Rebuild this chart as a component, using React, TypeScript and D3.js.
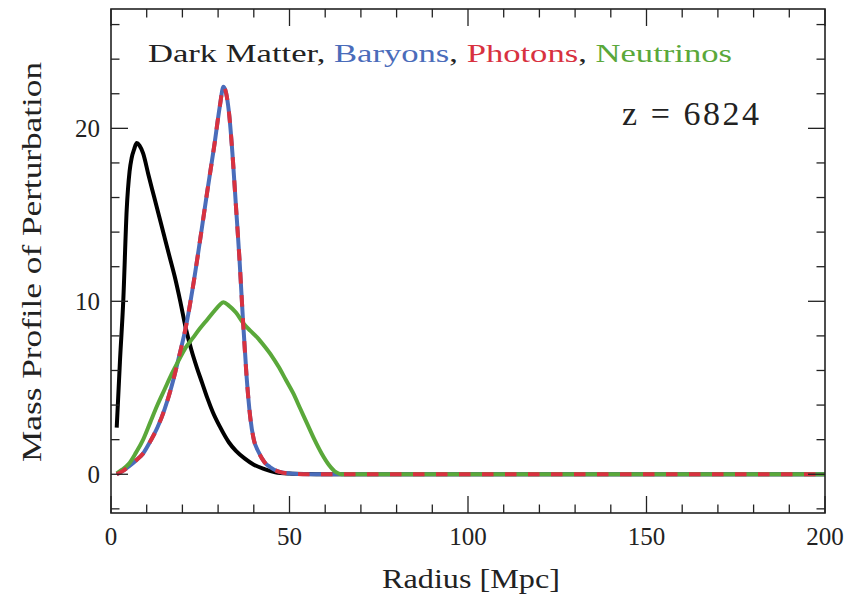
import React from "react";
import * as d3 from "d3";

const W = 846;
const H = 594;

// Dark Matter
const dmR = [1.6, 2.5, 3.45, 4.4, 5.2, 5.8, 6.5, 7.2, 8, 9, 10.5, 12, 13.5, 15, 16.5, 18, 19.3, 21, 22.5, 24, 25.5, 27, 28.5, 30.5, 33, 35, 37.5, 40, 43, 46, 50, 55, 60, 200];
const dmV = [2.7, 6.5, 10.1, 15.3, 17.5, 18.3, 18.8, 19.15, 19.0, 18.55, 17.3, 16.1, 14.9, 13.7, 12.5, 11.3, 10.1, 8.4, 7.2, 6.2, 5.3, 4.4, 3.6, 2.75, 1.85, 1.35, 0.9, 0.55, 0.3, 0.12, 0.04, 0.01, 0, 0];

// Baryons & Photons (nearly identical)
const bpR = [1.6, 3, 5, 7, 9, 11, 13, 15, 17, 19, 21, 23, 25, 27, 29, 30.5, 31.5, 33, 34, 35, 36, 37, 38, 39, 40, 41.3, 43, 44.5, 47, 50, 55, 60, 200];
const bpV = [0, 0.15, 0.45, 0.8, 1.2, 1.9, 2.7, 3.75, 5.1, 6.75, 8.55, 10.9, 13.6, 16.4, 19.1, 21.3, 22.4, 21.0, 18.6, 15.5, 12.4, 8.8, 5.6, 3.3, 2.0, 1.3, 0.7, 0.42, 0.15, 0.04, 0, 0, 0];

// Neutrinos
const nuR = [1.6, 3, 5, 7, 9, 11, 13, 15, 17, 19, 21, 23, 25, 27, 29, 30.5, 31.5, 33, 35, 37, 39, 41, 43, 45, 47, 49, 51, 53, 55, 57, 59, 61, 63, 64.5, 200];
const nuV = [0.05, 0.25, 0.6, 1.25, 2.0, 3.0, 4.0, 4.9, 5.8, 6.6, 7.35, 7.9, 8.45, 8.95, 9.45, 9.8, 9.95, 9.75, 9.35, 8.75, 8.3, 7.9, 7.4, 6.85, 6.2, 5.45, 4.7, 3.8, 2.9, 2.0, 1.2, 0.55, 0.12, 0, 0];

const xTicksMajor = [0, 50, 100, 150, 200];
const yTicksMajor = [0, 10, 20];

const BLACK = "#000000";
const BLUE = "#4a6cba";
const RED = "#d8313f";
const GREEN = "#5aa83a";

const FONT = '"Liberation Serif", "Times New Roman", Times, serif';

const plot = { left: 111, right: 825, top: 9, bottom: 513 };

export default function App() {
  const x = d3.scaleLinear().domain([0, 200]).range([plot.left, plot.right]);
  const y = d3.scaleLinear().domain([-2.24, 26.9]).range([plot.bottom, plot.top]);

  const line = (rs: number[], vs: number[]) =>
    d3
      .line<number>()
      .x((_, i) => x(rs[i]))
      .y((v) => y(v))
      .curve(d3.curveMonotoneX)(vs) as string;

  const xMinor = d3.range(0, 201, 10);
  const yMinor = d3.range(-2, 27, 2);
  const major = 17;
  const minor = 8.5;

  return (
    <svg
      width={W}
      height={H}
      style={{ position: "absolute", left: 0, top: 0, background: "#fff", fontFamily: FONT }}
    >
      <rect x={0} y={0} width={W} height={H} fill="#fff" />
      <defs>
        <clipPath id="clip">
          <rect x={plot.left} y={plot.top} width={plot.right - plot.left} height={plot.bottom - plot.top} />
        </clipPath>
      </defs>

      <g clipPath="url(#clip)" fill="none" strokeWidth={4} strokeLinejoin="round">
        <path d={line(dmR, dmV)} stroke={BLACK} />
        <path d={line(bpR, bpV)} stroke={BLUE} />
        <path d={line(nuR, nuV)} stroke={GREEN} />
        <path d={line(bpR, bpV)} stroke={RED} strokeDasharray="11.5,11.5" />
      </g>

      {/* ticks */}
      <g stroke="#222" strokeWidth={1.3}>
        {xMinor.map((t) => {
          const len = t % 50 === 0 ? major : minor;
          return (
            <g key={"xt" + t}>
              <line x1={x(t)} x2={x(t)} y1={plot.bottom} y2={plot.bottom - len} />
              <line x1={x(t)} x2={x(t)} y1={plot.top} y2={plot.top + len} />
            </g>
          );
        })}
        {yMinor.map((t) => {
          const len = t % 10 === 0 ? major : minor;
          return (
            <g key={"yt" + t}>
              <line x1={plot.left} x2={plot.left + len} y1={y(t)} y2={y(t)} />
              <line x1={plot.right} x2={plot.right - len} y1={y(t)} y2={y(t)} />
            </g>
          );
        })}
      </g>

      <rect
        x={plot.left}
        y={plot.top}
        width={plot.right - plot.left}
        height={plot.bottom - plot.top}
        fill="none"
        stroke="#222"
        strokeWidth={1.6}
      />

      {/* tick labels */}
      <g fontSize={25} fill="#222" style={{ fontFamily: FONT }}>
        {xTicksMajor.map((t) => (
          <text key={"xl" + t} x={x(t)} y={545} textAnchor="middle">
            {t}
          </text>
        ))}
        {yTicksMajor.map((t) => (
          <text key={"yl" + t} x={100} y={y(t) + 8.5} textAnchor="end">
            {t}
          </text>
        ))}
      </g>

      {/* axis labels */}
      <text x={471} y={588} fontSize={27} textAnchor="middle" fill="#222" textLength={178} lengthAdjust="spacingAndGlyphs" style={{ fontFamily: FONT }}>
        Radius [Mpc]
      </text>
      <text
        transform="translate(41,262) rotate(-90)"
        fontSize={28}
        textAnchor="middle"
        fill="#222"
        textLength={400}
        lengthAdjust="spacingAndGlyphs"
        style={{ fontFamily: FONT }}
      >
        Mass Profile of Perturbation
      </text>

      {/* legend title */}
      <text x={148} y={62} fontSize={26} textLength={584} lengthAdjust="spacingAndGlyphs" style={{ fontFamily: FONT }}>
        <tspan fill="#222">Dark Matter, </tspan>
        <tspan fill={BLUE}>Baryons</tspan>
        <tspan fill="#222">, </tspan>
        <tspan fill={RED}>Photons</tspan>
        <tspan fill="#222">, </tspan>
        <tspan fill={GREEN}>Neutrinos</tspan>
      </text>

      <text x={622} y={125} fontSize={34} fill="#222" textLength={137} lengthAdjust="spacing" style={{ fontFamily: FONT }}>
        z = 6824
      </text>
    </svg>
  );
}
